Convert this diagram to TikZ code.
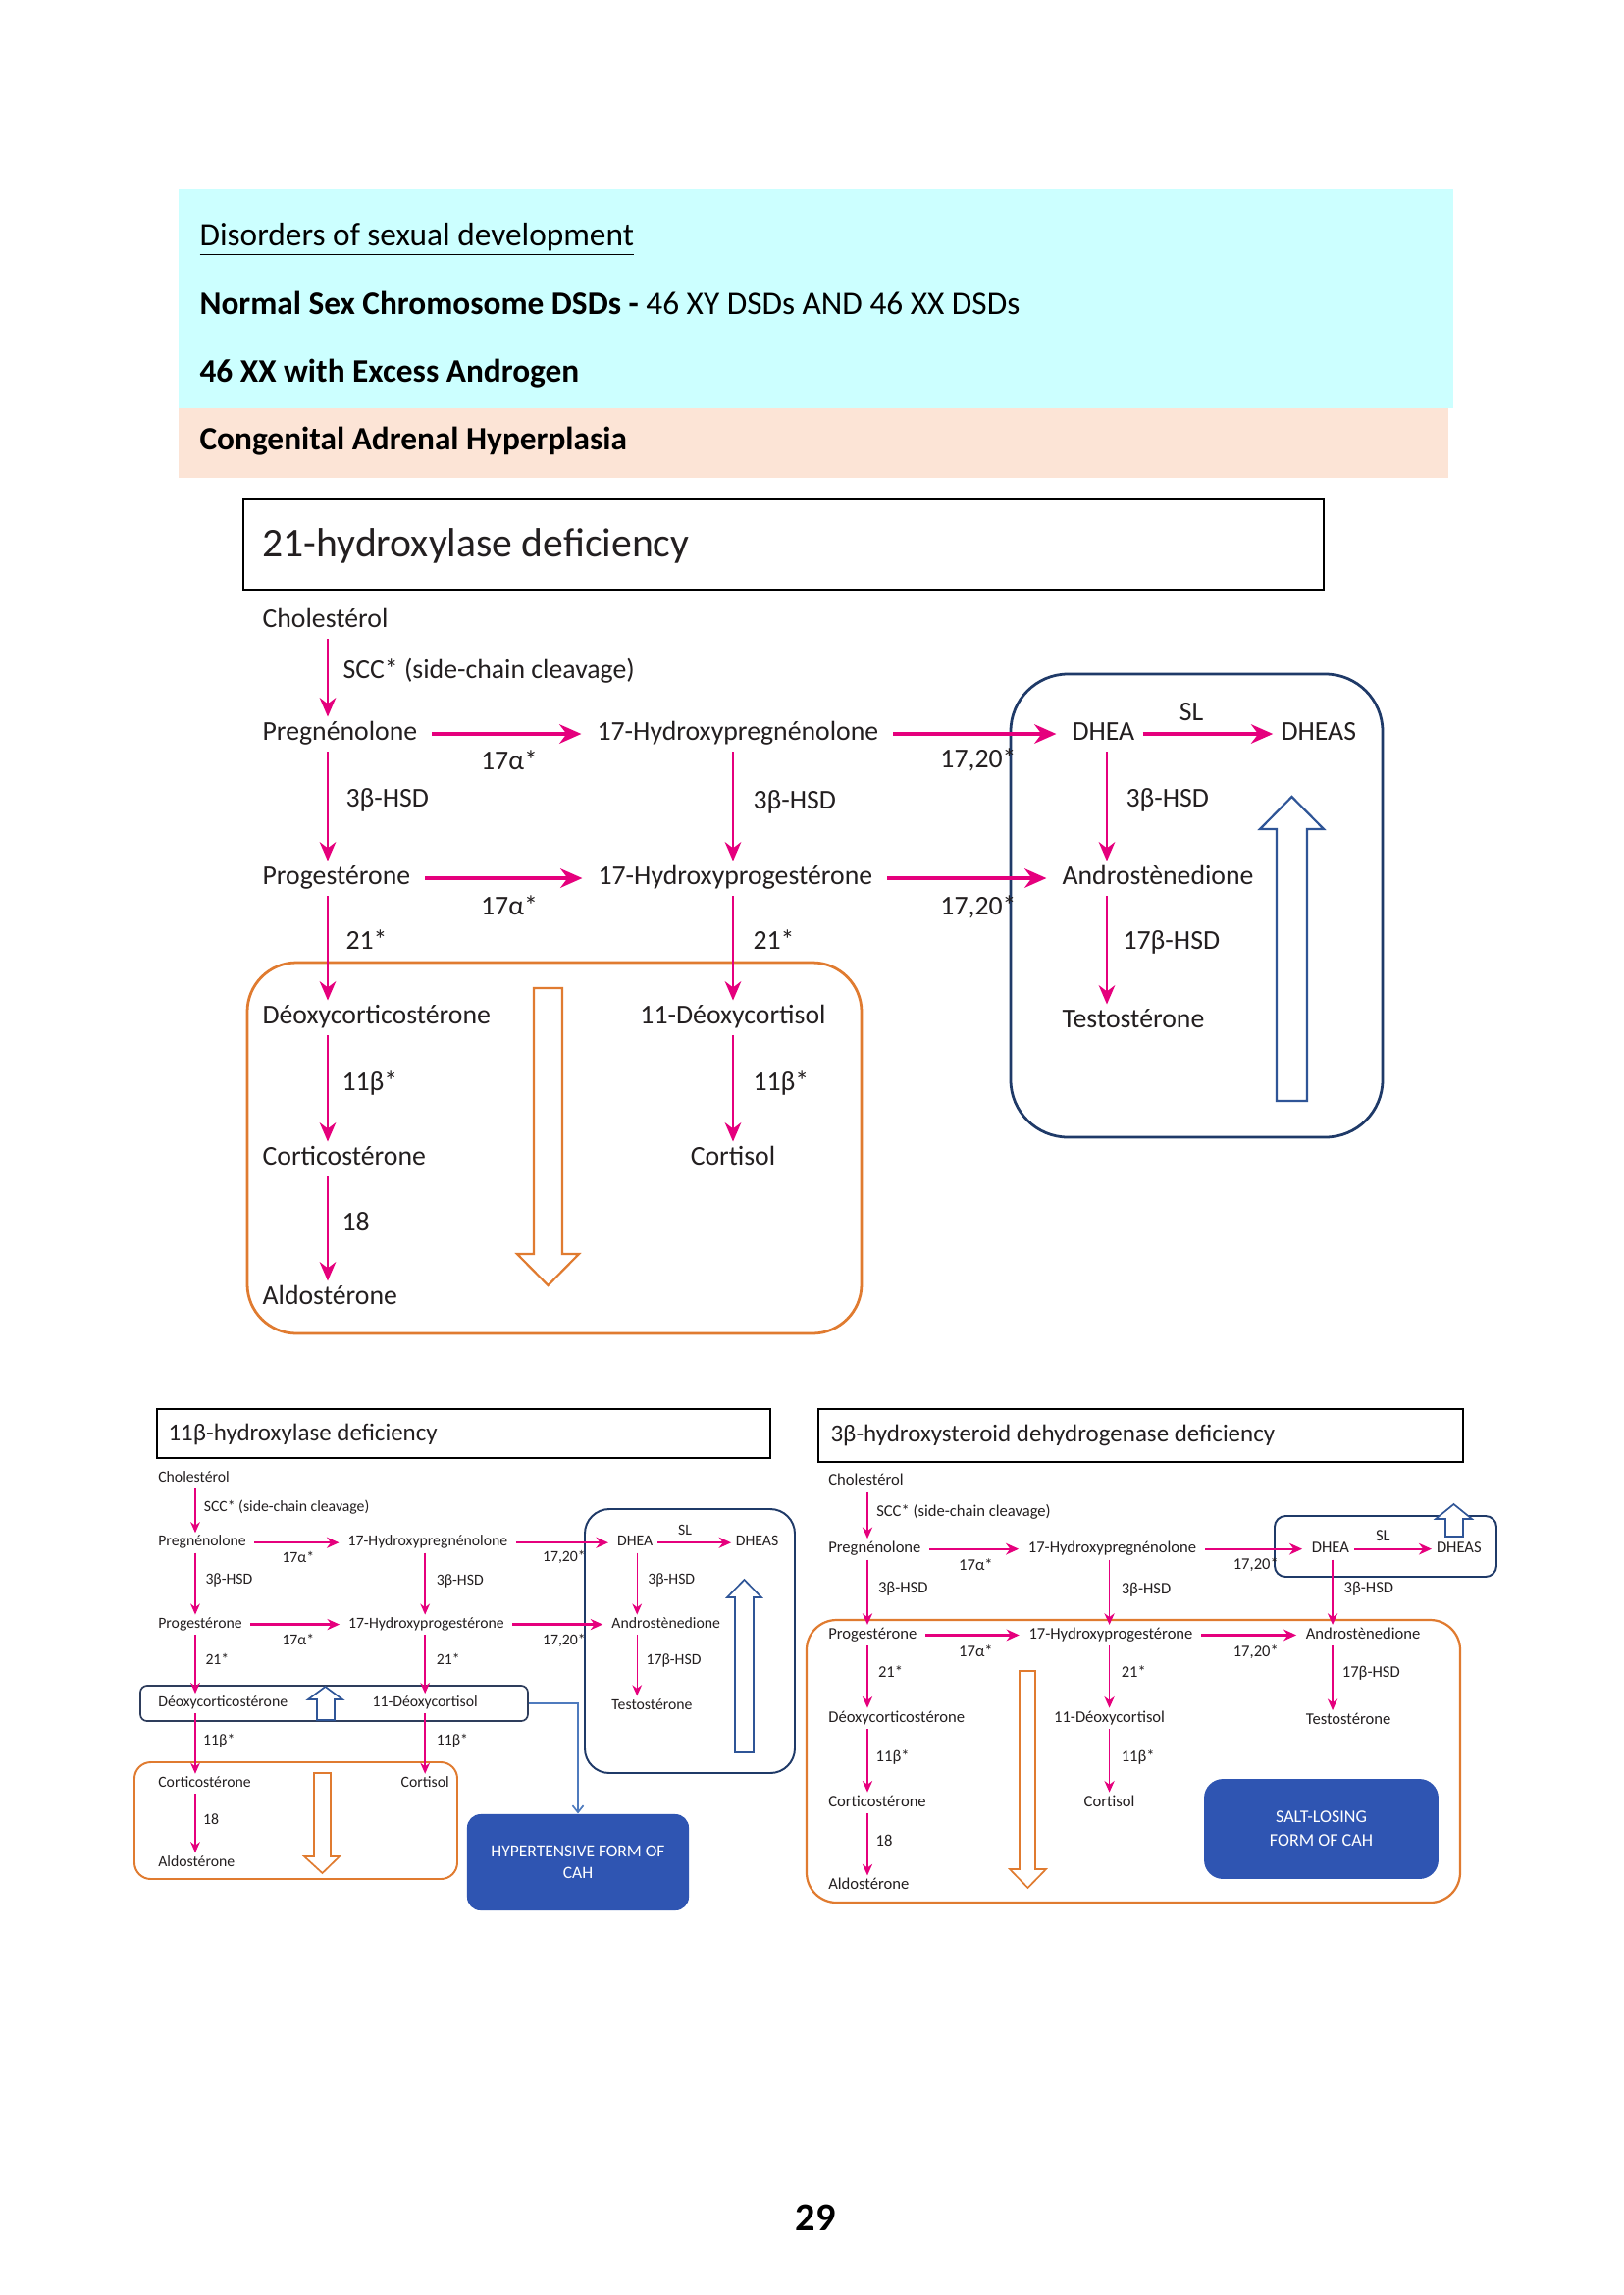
\documentclass[tikz,border=0pt]{standalone}
\usepackage{fontspec}
\setmainfont{Carlito}
\usetikzlibrary{arrows.meta}
\definecolor{mag}{HTML}{E5007D}
\definecolor{orng}{HTML}{E07B30}
\definecolor{navy}{HTML}{1F3A68}
\definecolor{hblue}{HTML}{2F5597}
\definecolor{fillblue}{HTML}{2F55B2}
\definecolor{cyanbg}{HTML}{CCFFFF}
\definecolor{peach}{HTML}{FCE4D6}
\definecolor{txt}{HTML}{231F20}
\definecolor{steel}{HTML}{4F7BBE}
\definecolor{slate}{HTML}{2E3D5C}

\newcommand{\pathway}{%
  \coordinate (k1) at (67,0);
  \coordinate (k2) at (480,0);
  \coordinate (k3) at (861,0);
  \node[mtxt] (chol) at (0,0) {Cholestérol};
  \node[mtxt] (preg) at (0,115) {Pregnénolone};
  \node[mtxt] (ohpreg) at (341,115) {17-Hydroxypregnénolone};
  \node[mtxt] (dhea) at (825,115) {DHEA};
  \node[mtxt] (dheas) at (1038,115) {DHEAS};
  \node[mtxt] (prog) at (0,262) {Progestérone};
  \node[mtxt] (ohprog) at (342,262) {17-Hydroxyprogestérone};
  \node[mtxt] (andro) at (815,262) {Androstènedione};
  \node[mtxt] (doc) at (0,404) {Déoxycorticostérone};
  \node[ctxt] (dcort) at (480,404) {11-Déoxycortisol};
  \node[mtxt] (testo) at (815,408) {Testostérone};
  \node[mtxt] (cortico) at (0,548) {Corticostérone};
  \node[ctxt] (cortisol) at (480,548) {Cortisol};
  \node[mtxt] (aldo) at (0,690) {Aldostérone};
  \draw[varr] (chol.mid -| k1) -- (preg.mid -| k1);
  \draw[varr] (preg.mid -| k1) -- (prog.mid -| k1);
  \draw[varr] (prog.mid -| k1) -- (doc.mid -| k1);
  \draw[varr] (doc.mid -| k1) -- (cortico.mid -| k1);
  \draw[varr] (cortico.mid -| k1) -- (aldo.mid -| k1);
  \draw[varr] (ohpreg.mid -| k2) -- (ohprog.mid -| k2);
  \draw[varr] (ohprog.mid -| k2) -- (dcort.mid -| k2);
  \draw[varr] (dcort.mid -| k2) -- (cortisol.mid -| k2);
  \draw[varr] (dhea.mid -| k3) -- (andro.mid -| k3);
  \draw[varr] (andro.mid -| k3) -- (testo.mid -| k3);
  \draw[harr] (preg.mid east) -- (ohpreg.mid west);
  \draw[harr] (ohpreg.mid east) -- (dhea.mid west);
  \draw[slarr] (dhea.mid east) -- (dheas.mid west);
  \draw[harr] (prog.mid east) -- (ohprog.mid west);
  \draw[harr] (ohprog.mid east) -- (andro.mid west);
  \node[mtxt] (lscc) at (82,52) {SCC* (side-chain cleavage)};
  \node[ctxt] (la1) at (252,145) {17α*};
  \node[ctxt] (lb1) at (730,143) {17,20*};
  \node[ctxt] (lsl) at (947,95) {SL};
  \node[mtxt] (lh1) at (85,183) {3β-HSD};
  \node[mtxt] (lh2) at (500,185) {3β-HSD};
  \node[mtxt] (lh3) at (880,183) {3β-HSD};
  \node[ctxt] (la2) at (252,293) {17α*};
  \node[ctxt] (lb2) at (730,293) {17,20*};
  \node[mtxt] (l21a) at (85,328) {21*};
  \node[mtxt] (l21b) at (500,328) {21*};
  \node[mtxt] (l17b) at (877,328) {17β-HSD};
  \node[mtxt] (l11a) at (81,472) {11β*};
  \node[mtxt] (l11b) at (500,472) {11β*};
  \node[mtxt] (l18) at (81,615) {18};
}

\begin{document}
\begin{tikzpicture}[x=0.36pt,y=-0.36pt,
  mtxt/.style={anchor=mid west, inner sep=0pt, text=txt, font=\fontsize{10}{12}\selectfont},
  ctxt/.style={mtxt, anchor=mid},
  htxt/.style={anchor=mid west, inner sep=0pt, text=black, font=\fontsize{12}{14}\selectfont},
  ttl/.style={anchor=mid west, inner sep=0pt, text=txt, font=\fontsize{9}{11}\selectfont},
  varr/.style={draw=mag, line width=0.8pt, -{Stealth[length=7pt,width=6pt]}, shorten <=6.5pt, shorten >=6.3pt},
  harr/.style={draw=mag, line width=1.5pt, -{Stealth[length=8pt,width=7pt]}, shorten <=5.2pt, shorten >=5.6pt},
  slarr/.style={harr, shorten <=2.8pt, shorten >=2.8pt},
  cahbox/.style={fill=fillblue, rounded corners=6pt, text=white, align=center, inner sep=0pt}
]
\useasboundingbox (0,0) rectangle (1654,2339);
\fill[white] (0,0) rectangle (1654,2339);

% header
\fill[cyanbg] (182,193) rectangle (1481,416);
\fill[peach] (182,416) rectangle (1476,487);
\node[htxt] (h1) at (203,244) {\underline{Disorders of sexual development}};
\node[htxt] (h2) at (203,314) {\textbf{Normal Sex Chromosome DSDs -} 46 XY DSDs AND 46 XX DSDs};
\node[htxt] (h3) at (203,383) {\textbf{46 XX with Excess Androgen}};
\node[htxt] (h4) at (203,452) {\textbf{Congenital Adrenal Hyperplasia}};

% main diagram
\draw[line width=0.9pt] (248,509) rectangle (1349,601);
\node[anchor=mid west, inner sep=0pt, text=txt, font=\fontsize{15}{18}\selectfont] (t1) at (267,561) {21-hydroxylase deficiency};
\draw[orng, line width=1pt, rounded corners=18pt] (252,981) rectangle (878,1359);
\draw[navy, line width=1pt, rounded corners=21pt] (1030,687) rectangle (1409,1159);
\draw[orng, line width=0.8pt, fill=white] (544,1007) -- (573,1007) -- (573,1278) -- (590,1278) -- (558.5,1310) -- (527,1278) -- (544,1278) -- cycle;
\draw[hblue, line width=0.8pt, fill=white] (1301,1122) -- (1332,1122) -- (1332,845) -- (1349,845) -- (1316.5,812) -- (1284,845) -- (1301,845) -- cycle;
\begin{scope}[shift={(267,633)}, name prefix=m-]
\pathway
\end{scope}

% bottom left: 11beta
\draw[line width=0.7pt] (160,1436) rectangle (785,1486);
\node[ttl] (t2) at (171,1462) {11β-hydroxylase deficiency};
\draw[navy, line width=0.7pt, rounded corners=9pt] (596,1538) rectangle (810,1807);
\node[draw=slate, line width=0.6pt, rounded corners=2.5pt, minimum width=142.2pt, minimum height=13pt, inner sep=0pt] (dbox) at (340.5,1736) {};
\draw[hblue, line width=0.6pt, fill=white] (323,1753) -- (341,1753) -- (341,1732) -- (349,1732) -- (331.5,1719) -- (314,1732) -- (323,1732) -- cycle;
\draw[orng, line width=0.7pt, rounded corners=6pt] (137,1796) rectangle (466,1915);
\draw[orng, line width=0.6pt, fill=white] (320,1807) -- (337,1807) -- (337,1892) -- (346,1892) -- (328.5,1909) -- (310,1892) -- (320,1892) -- cycle;
\draw[hblue, line width=0.6pt, fill=white] (749,1786) -- (768,1786) -- (768,1628) -- (776,1628) -- (758.5,1610) -- (741,1628) -- (749,1628) -- cycle;
\node[cahbox, rounded corners=5pt, minimum width=81.4pt, minimum height=35.3pt, font=\fontsize{6.3}{7.9}\selectfont] (hyp) at (589,1898) {HYPERTENSIVE FORM OF\\CAH};
\draw[steel, line width=0.6pt, -{Straight Barb[length=2.5pt,width=4pt]}] (dbox.east) -| (hyp.north);
\begin{scope}[shift={(161,1507)}, scale=0.567, transform shape, name prefix=a-,
  varr/.style={draw=mag, line width=0.5pt, -{Stealth[length=4pt,width=3.5pt]}, shorten <=3.7pt, shorten >=3.6pt},
  harr/.style={draw=mag, line width=0.8pt, -{Stealth[length=4.5pt,width=4pt]}, shorten <=3pt, shorten >=3.2pt},
  slarr/.style={harr, shorten <=1.6pt, shorten >=1.6pt}]
\pathway
\end{scope}

% bottom right: 3beta-HSD
\draw[line width=0.7pt] (834,1436) rectangle (1491,1490);
\node[ttl] (t3) at (846,1463) {3β-hydroxysteroid dehydrogenase deficiency};
\draw[navy, line width=0.7pt, rounded corners=4pt] (1299,1545) rectangle (1525,1607);
\draw[hblue, line width=0.6pt, fill=white] (1473,1566) -- (1491,1566) -- (1491,1548) -- (1500,1548) -- (1481.5,1533) -- (1463,1548) -- (1473,1548) -- cycle;
\draw[orng, line width=0.8pt, rounded corners=11pt] (822,1651) rectangle (1488,1939);
\draw[orng, line width=0.6pt, fill=white] (1039,1703) -- (1055,1703) -- (1055,1905) -- (1066,1905) -- (1047.5,1924) -- (1029,1905) -- (1039,1905) -- cycle;
\node[cahbox, rounded corners=7pt, minimum width=86pt, minimum height=36.7pt, font=\fontsize{6.5}{8.6}\selectfont] (salt) at (1346.5,1864) {SALT-LOSING\\FORM OF CAH};
\begin{scope}[shift={(844,1510)}, scale=0.597, transform shape, name prefix=b-,
  varr/.style={draw=mag, line width=0.5pt, -{Stealth[length=4.2pt,width=3.7pt]}, shorten <=3.9pt, shorten >=3.8pt},
  harr/.style={draw=mag, line width=0.8pt, -{Stealth[length=4.7pt,width=4.2pt]}, shorten <=3.1pt, shorten >=3.4pt},
  slarr/.style={harr, shorten <=1.7pt, shorten >=1.7pt}]
\pathway
\end{scope}

% page number
\node[anchor=mid, inner sep=0pt, font=\fontsize{14.5}{17}\selectfont\bfseries] (pg) at (831,2267) {29};
\end{tikzpicture}
\end{document}
